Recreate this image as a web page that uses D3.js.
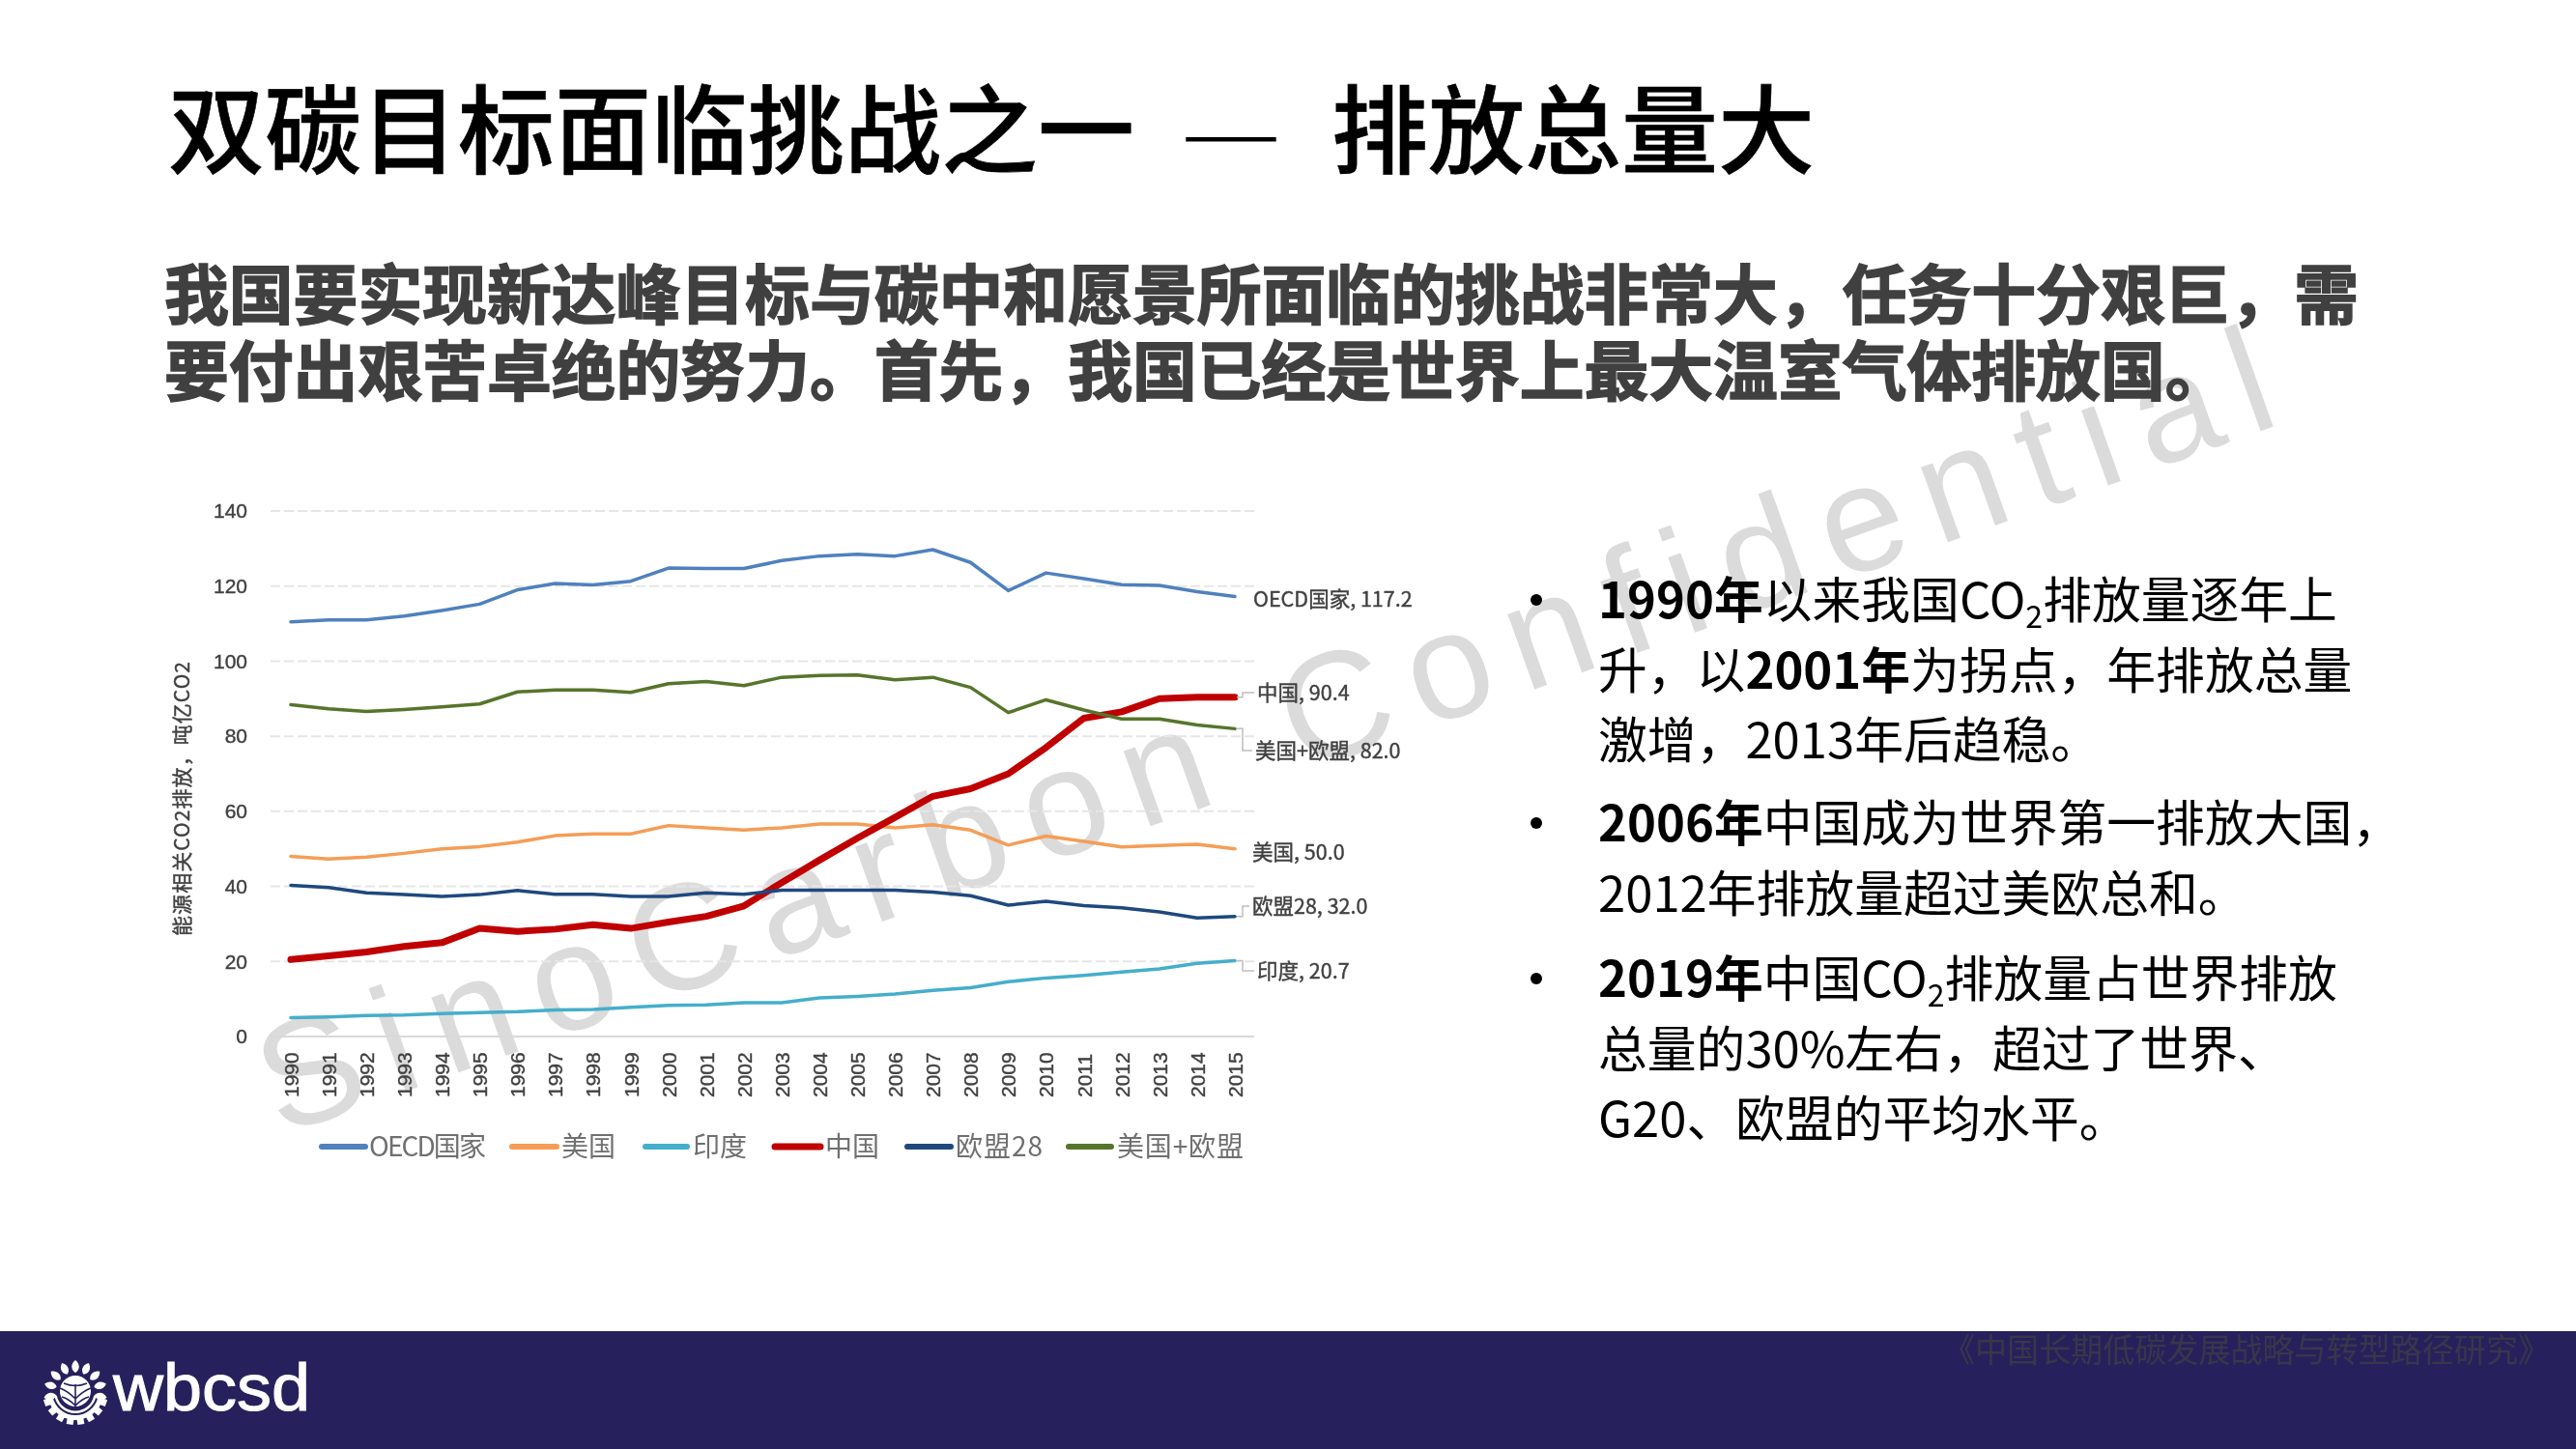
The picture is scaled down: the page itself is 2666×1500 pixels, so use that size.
<!DOCTYPE html>
<html>
<head>
<meta charset="utf-8">
<script src="https://cdn.jsdelivr.net/npm/d3@7"></script>
<style>
  html, body { margin: 0; background: #fff; }
  svg { display: block; }
  text { font-family: "Noto Sans CJK SC", "Noto Sans", sans-serif; }
</style>
</head>
<body>
<div id="chart"></div>
<script>
// values, 1990-2015
const years = d3.range(1990, 2016)
const oecd = [110.5, 111, 111, 112, 113.5, 115.2, 119, 120.7, 120.3, 121.3, 124.8, 124.7, 124.7, 126.8, 128, 128.5, 128, 129.7, 126.3, 118.8, 123.5, 122, 120.4, 120.2, 118.5, 117.2]
const usa = [48, 47.3, 47.8, 48.8, 50, 50.6, 51.8, 53.5, 54, 54, 56.2, 55.6, 55, 55.6, 56.6, 56.6, 55.6, 56.4, 55, 51, 53.4, 52, 50.5, 50.9, 51.2, 50]
const india = [5, 5.2, 5.6, 5.7, 6.1, 6.4, 6.6, 7.1, 7.2, 7.8, 8.3, 8.4, 9, 9, 10.3, 10.7, 11.3, 12.3, 13, 14.6, 15.6, 16.3, 17.2, 18, 19.5, 20.2]
const china = [20.5, 21.5, 22.5, 24, 25, 28.8, 28, 28.6, 29.8, 28.8, 30.5, 32, 34.8, 41, 47, 52.8, 58.4, 64, 66, 70, 77, 84.8, 86.5, 90, 90.4, 90.4]
const eu28 = [40.3, 39.7, 38.3, 37.8, 37.3, 37.8, 38.9, 37.9, 37.9, 37.3, 37.3, 38.3, 37.9, 39, 39, 39, 39, 38.5, 37.5, 35, 36, 34.9, 34.3, 33.2, 31.6, 32]
const usaEu = [88.4, 87.3, 86.6, 87.1, 87.8, 88.6, 91.8, 92.3, 92.3, 91.7, 94, 94.6, 93.5, 95.7, 96.2, 96.3, 95, 95.7, 93, 86.3, 89.7, 87, 84.6, 84.6, 83, 82]
const yTicks = [0, 20, 40, 60, 80, 100, 120, 140]

const seriesNames = ["OECD国家", "美国", "印度", "中国", "欧盟28", "美国+欧盟"]
const seriesValues = [oecd, usa, india, china, eu28, usaEu]
const seriesColors = ["#4f81bd", "#f59d56", "#45aecb", "#c00000", "#1f497d", "#56752b"]
const seriesWidths = [3.5, 3.5, 3.5, 7, 3.5, 3.5]
const endLabels = ["OECD国家, 117.2", "美国, 50.0", "印度, 20.7", "中国, 90.4", "欧盟28, 32.0", "美国+欧盟, 82.0"]

const titleParts = ["双碳目标面临挑战之一", "—", "排放总量大"]
const introLines = [
  "我国要实现新达峰目标与碳中和愿景所面临的挑战非常大，任务十分艰巨，需",
  "要付出艰苦卓绝的努力。首先，我国已经是世界上最大温室气体排放国。"
]
// b = bold, s = subscript
const bullets = [
  [[["b", "1990年"], ["", "以来我国CO"], ["s", "2"], ["", "排放量逐年上"]],
   [["", "升，以"], ["b", "2001年"], ["", "为拐点，年排放总量"]],
   [["", "激增，2013年后趋稳。"]]],
  [[["b", "2006年"], ["", "中国成为世界第一排放大国，"]],
   [["", "2012年排放量超过美欧总和。"]]],
  [[["b", "2019年"], ["", "中国CO"], ["s", "2"], ["", "排放量占世界排放"]],
   [["", "总量的30%左右，超过了世界、"]],
   [["", "G20、欧盟的平均水平。"]]]
]

const svg = d3.select("#chart").append("svg")
  .attr("width", 2666)
  .attr("height", 1500)

// watermark goes under everything
svg.append("text")
  .attr("transform", "translate(290,1176) rotate(-19.6)")
  .attr("textLength", 2200)
  .attr("lengthAdjust", "spacing")
  .style("font-family", "'Liberation Sans'")
  .style("font-size", "156px")
  .style("fill", "#dbdbdb")
  .text("SinoCarbon Confidential")

// heading
const titleX = [174, 1222, 1378]
svg.selectAll(".title")
  .data(titleParts)
  .join("text")
  .attr("class", "title")
  .attr("x", (d, i) => titleX[i])
  .attr("y", 172)
  .attr("textLength", (d, i) => i === 1 ? 104 : null)
  .attr("lengthAdjust", "spacingAndGlyphs")
  .style("font-size", "100px")
  .style("font-weight", (d, i) => i === 1 ? 300 : 500)
  .style("fill", "#000")
  .style("stroke", "#000")
  .style("stroke-width", (d, i) => i === 1 ? 0 : 0.6)
  .text(d => d)

svg.selectAll(".intro")
  .data(introLines)
  .join("text")
  .attr("class", "intro")
  .attr("x", 170)
  .attr("y", (d, i) => 330 + i * 79)
  .style("font-size", "66.8px")
  .style("font-weight", 700)
  .style("fill", "#404040")
  .style("stroke", "#404040")
  .style("stroke-width", 1.5)
  .text(d => d)

// chart
const x = d3.scalePoint().domain(years).range([301, 1278])
const y = d3.scaleLinear().domain([0, 140]).range([1073, 529])

const chart = svg.append("g").style("filter", "blur(0.7px)")

chart.append("g")
  .selectAll("line")
  .data(yTicks)
  .join("line")
  .attr("x1", 280)
  .attr("x2", 1298)
  .attr("y1", d => y(d))
  .attr("y2", d => y(d))
  .attr("stroke", d => d === 0 ? "#d9d9d9" : "#e6e6e6")
  .attr("stroke-width", 2)
  .attr("stroke-dasharray", d => d === 0 ? null : "10 4")

const yAxis = chart.append("g")
  .attr("transform", "translate(256,0)")
  .call(d3.axisLeft(y).tickValues(yTicks).tickSize(0).tickPadding(0))
yAxis.select(".domain").remove()
yAxis.selectAll("text")
  .style("font-family", "'Liberation Sans'")
  .style("font-size", "21px")
  .style("fill", "#404040")
  .style("stroke", "#404040")
  .style("stroke-width", 0.4)

const xAxis = chart.append("g")
  .attr("transform", "translate(0,1086)")
  .call(d3.axisBottom(x).tickSize(0).tickPadding(0).tickFormat(d3.format("d")))
xAxis.select(".domain").remove()
xAxis.selectAll("text")
  .attr("transform", "rotate(-90)")
  .attr("x", 0)
  .attr("y", 0)
  .attr("dx", "-50px")
  .attr("dy", "0.35em")
  .style("text-anchor", "start")
  .style("font-family", "'Liberation Sans'")
  .style("font-size", "21px")
  .style("fill", "#404040")
  .style("stroke", "#404040")
  .style("stroke-width", 0.4)

chart.append("text")
  .attr("transform", "translate(189,827) rotate(-90)")
  .attr("text-anchor", "middle")
  .attr("dy", "0.35em")
  .attr("textLength", 284)
  .style("font-size", "21px")
  .style("fill", "#404040")
  .style("stroke", "#404040")
  .style("stroke-width", 0.4)
  .text("能源相关CO2排放，吨亿CO2")

const line = d3.line().x((d, i) => x(years[i])).y(d => y(d))

chart.append("g")
  .selectAll("path")
  .data(seriesValues)
  .join("path")
  .attr("d", line)
  .attr("fill", "none")
  .attr("stroke", (d, i) => seriesColors[i])
  .attr("stroke-width", (d, i) => seriesWidths[i])
  .attr("stroke-linejoin", "round")
  .attr("stroke-linecap", "round")

// end labels, in series order
const labelX = [1297, 1296, 1301, 1301, 1296, 1299]
const labelY = [620, 882, 1005, 717, 938, 777]
const ends = seriesValues.map(d => d[d.length - 1])

chart.append("g")
  .selectAll("text")
  .data(endLabels)
  .join("text")
  .attr("x", (d, i) => labelX[i])
  .attr("y", (d, i) => labelY[i])
  .attr("dy", "0.35em")
  .style("font-size", "21.5px")
  .style("fill", "#404040")
  .style("stroke", "#404040")
  .style("stroke-width", 0.4)
  .text(d => d)

// small callout hooks for the labels that sit off their line
chart.append("g")
  .selectAll("path")
  .data([2, 3, 4, 5])
  .join("path")
  .attr("d", i => {
    const x0 = x(2015) + 2, y0 = y(ends[i])
    return `M${x0},${y0}H${x0 + 6}V${labelY[i]}H${labelX[i] - 3}`
  })
  .attr("fill", "none")
  .attr("stroke", "#bfbfbf")
  .attr("stroke-width", 1.5)

// legend
const legendLine = [[333, 378], [530, 576], [668, 711], [802, 849], [939, 984], [1106, 1150]]
const legendText = [382, 581, 717, 854, 989, 1156]
const legendLen = [121, 56, 56, 56, 90, 131]
const legend = chart.append("g")

legend.selectAll("line")
  .data(seriesNames)
  .join("line")
  .attr("x1", (d, i) => legendLine[i][0])
  .attr("x2", (d, i) => legendLine[i][1])
  .attr("y1", 1187)
  .attr("y2", 1187)
  .attr("stroke", (d, i) => seriesColors[i])
  .attr("stroke-width", (d, i) => i === 3 ? 7 : 6)
  .attr("stroke-linecap", "round")

legend.selectAll("text")
  .data(seriesNames)
  .join("text")
  .attr("x", (d, i) => legendText[i])
  .attr("y", 1187)
  .attr("dy", "0.35em")
  .attr("textLength", (d, i) => legendLen[i])
  .style("font-size", "28px")
  .style("fill", "#6f6f6f")
  .text(d => d)

// right hand text
const bulletTop = [621, 852, 1013]
const bulletGroups = svg.append("g")
  .selectAll("g")
  .data(bullets)
  .join("g")

bulletGroups.append("circle")
  .attr("cx", 1590)
  .attr("cy", (d, i) => bulletTop[i])
  .attr("r", 6)
  .attr("fill", "#000")

bulletGroups.each(function(lines, b) {
  const rows = d3.select(this).selectAll("text")
    .data(lines)
    .join("text")
    .attr("x", 1654)
    .attr("y", (d, i) => bulletTop[b] + 19 + i * 72.5)
    .style("font-size", "50.8px")
    .style("fill", "#000")

  rows.selectAll("tspan")
    .data(d => d)
    .join("tspan")
    .attr("dy", (d, i, n) => {
      if (d[0] === "s") return 10
      return i > 0 && n[i - 1].__data__[0] === "s" ? -10 : 0
    })
    .style("font-weight", d => d[0] === "b" ? 700 : 400)
    .style("font-size", d => d[0] === "s" ? "32px" : null)
    .text(d => d[1])
})

// footer
svg.append("rect")
  .attr("x", 0)
  .attr("y", 1378)
  .attr("width", 2666)
  .attr("height", 122)
  .attr("fill", "#26215c")

svg.append("text")
  .attr("x", 2011)
  .attr("y", 1410)
  .attr("textLength", 628)
  .attr("lengthAdjust", "spacingAndGlyphs")
  .style("font-size", "34px")
  .style("fill", "#38374a")
  .text("《中国长期低碳发展战略与转型路径研究》")

svg.append("text")
  .attr("x", 117)
  .attr("y", 1460)
  .attr("textLength", 204)
  .attr("lengthAdjust", "spacingAndGlyphs")
  .style("font-family", "'Liberation Sans'")
  .style("font-size", "68px")
  .style("fill", "#fff")
  .style("stroke", "#fff")
  .style("stroke-width", 1)
  .text("wbcsd")

// logo: leaves over a half gear around a small globe
const logo = svg.append("g").attr("transform", "translate(78,1441)")
const leafAngles = [-100, -75, -50, -25, 0, 25, 50, 75, 100]

logo.selectAll(".leaf")
  .data(leafAngles)
  .join("path")
  .attr("class", "leaf")
  .attr("transform", d => `rotate(${d}) translate(0,-26)`)
  .attr("d", "M0,-7 C5,-3 5,3 0,6 C-5,3 -5,-3 0,-7Z")
  .attr("fill", "#fff")

const toothAngles = [110, 130, 150, 170, 190, 210, 230, 250]
logo.selectAll(".tooth")
  .data(toothAngles)
  .join("rect")
  .attr("class", "tooth")
  .attr("transform", d => `rotate(${d - 180})`)
  .attr("x", -3.5)
  .attr("y", 26)
  .attr("width", 7)
  .attr("height", 8)
  .attr("fill", "#fff")

logo.append("path")
  .attr("d", d3.arc().innerRadius(24).outerRadius(29).startAngle(Math.PI * 0.56).endAngle(Math.PI * 1.44)())
  .attr("fill", "#fff")
logo.append("path")
  .attr("d", d3.arc().innerRadius(19.5).outerRadius(22).startAngle(Math.PI * 0.56).endAngle(Math.PI * 1.44)())
  .attr("fill", "#fff")

logo.append("circle").attr("r", 16).attr("cy", -1).attr("fill", "#fff")
logo.append("path")
  .attr("d", "M-16,-4 Q-8,-1 0,7 Q8,-1 16,-4 M-14,5 Q-7,7 0,14 Q7,7 14,5 M0,-8 V15 M-12,-9 Q0,-4 12,-9")
  .attr("fill", "none")
  .attr("stroke", "#26215c")
  .attr("stroke-width", 1.6)
</script>
</body>
</html>
